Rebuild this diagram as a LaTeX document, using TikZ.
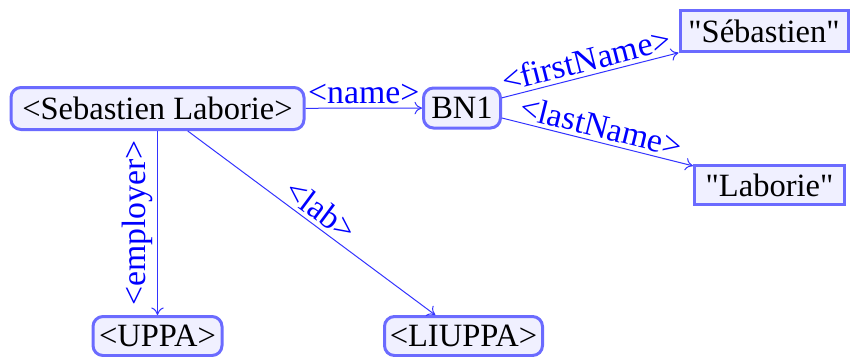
\documentclass[tikz,border=0pt]{standalone}
\usepackage{fontspec}
\setmainfont{Liberation Serif}
\usetikzlibrary{arrows.meta}
\definecolor{nodeborder}{HTML}{6B6BFF}
\definecolor{nodefill}{HTML}{F0F0FF}
\definecolor{edgecol}{HTML}{3333FF}
\definecolor{labcol}{HTML}{0000FF}
\tikzset{
  base/.style={draw=nodeborder, fill=nodefill, line width=1.2pt, inner sep=0pt, font=\fontsize{13}{15}\selectfont},
  res/.style={base, rounded corners=4pt},
  lit/.style={base},
  rel/.style={draw=edgecol, line width=0.4pt, -{To[length=3pt,width=5pt]}},
  lbl/.style={text=labcol, font=\fontsize{13.5}{15}\selectfont, inner sep=1.5pt}
}
\begin{document}
\begin{tikzpicture}[x=0.4pt,y=-0.4pt]
\useasboundingbox (0,0) rectangle (850,356);
\node[res, minimum width={293*0.4pt}, minimum height={42*0.4pt}] (seb) at (157.5,108.5) {<Sebastien Laborie>};
\node[res, minimum width={77*0.4pt}, minimum height={40*0.4pt}] (bn1) at (462,108) {BN1};
\node[lit, minimum width={168*0.4pt}, minimum height={41*0.4pt}] (first) at (764,31) {\textquotedbl Sébastien\textquotedbl};
\node[lit, minimum width={150*0.4pt}, minimum height={39*0.4pt}] (last) at (769.5,185) {\textquotedbl Laborie\textquotedbl};
\node[res, minimum width={129*0.4pt}, minimum height={39*0.4pt}] (uppa) at (157.5,336) {<UPPA>};
\node[res, minimum width={158*0.4pt}, minimum height={39*0.4pt}] (liuppa) at (463.5,336) {<LIUPPA>};
\draw[rel] (seb) -- node[lbl, above] {<name>} (bn1);
\draw[rel] (bn1) -- node[lbl, above, sloped] {<firstName>} (first);
\draw[rel] (bn1) -- node[lbl, above, sloped] {<lastName>} (last);
\draw[rel] (seb.south) -- node[lbl, rotate=90, anchor=south] {<employer>} (uppa.north);
\draw[rel] (seb) -- node[lbl, above, sloped] {<lab>} (liuppa);
\end{tikzpicture}
\end{document}
